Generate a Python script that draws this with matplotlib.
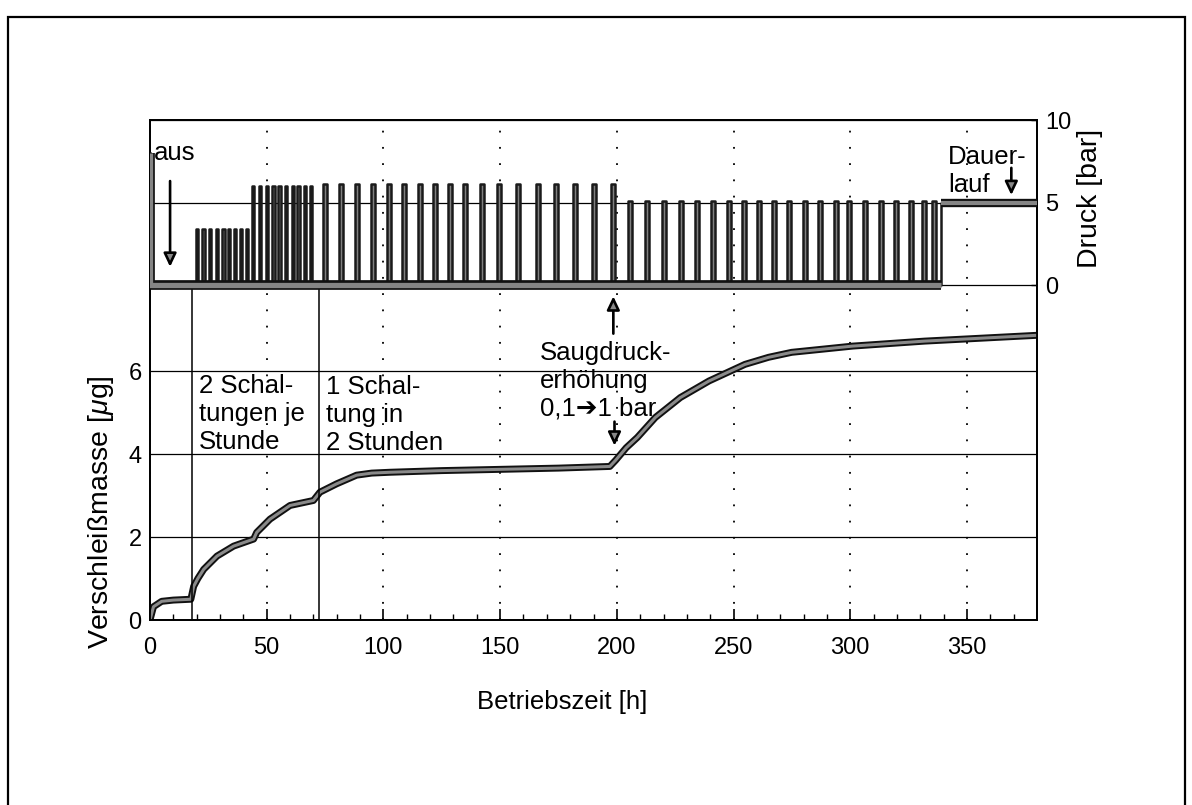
import matplotlib
matplotlib.use("Agg")
import matplotlib.pyplot as plt
from matplotlib.patches import Rectangle

plt.rcParams['font.family'] = ['Liberation Sans', 'DejaVu Sans']
plt.rcParams['mathtext.fontset'] = 'custom'
plt.rcParams['mathtext.it'] = 'Liberation Sans:italic'
plt.rcParams['mathtext.rm'] = 'Liberation Sans'

# ---------------- data ----------------
# wear mass curve (Betriebszeit [h], Verschleissmasse [ug])
mass_time = [0, 1.5, 5, 10, 17.5, 18.7, 20.5, 23, 28.7, 35.8, 44.4, 45.7, 51.4, 60, 70,
             72.8, 79.9, 88.5, 95, 102.8, 125, 150, 175, 197, 199.5, 204, 208.8, 216.5,
             227.2, 239.5, 254.9, 265, 274.9, 301, 331.8, 380]
mass_value = [0, 0.32, 0.45, 0.48, 0.5, 0.81, 1.0, 1.22, 1.54, 1.78, 1.95, 2.11, 2.43, 2.76, 2.88,
              3.08, 3.28, 3.49, 3.54, 3.56, 3.6, 3.63, 3.66, 3.7, 3.85, 4.15, 4.40, 4.88,
              5.36, 5.76, 6.16, 6.33, 6.45, 6.6, 6.72, 6.86]

# pressure switching pulses (centre times [h]) and their levels [bar]
pulses_2_per_hour_low = [20.0, 22.9, 25.7, 28.6, 31.5, 33.9, 36.5, 39.0, 41.5]
level_2_per_hour_low = 3.4
pulses_2_per_hour_high = [44.3, 47.2, 50.0, 52.9, 55.5, 58.2, 61.1, 63.6, 66.5, 69.0]
level_2_per_hour_high = 6.0
pulses_1_per_2h = [74.8, 81.8, 88.6, 95.4, 102.2, 108.9, 115.5, 122.2, 128.6, 135.1, 142.2,
                   149.4, 157.5, 166.1, 174.1, 182.0, 190.4, 198.4]
level_1_per_2h = 6.1
pulses_after_suction = [205.7, 212.9, 220.1, 227.5, 234.4, 241.2, 248.0, 254.4, 260.8, 267.2,
                        273.7, 280.8, 287.2, 293.7, 299.4, 306.5, 313.0, 319.4, 325.9, 331.6, 335.9]
level_after_suction = 5.1
initial_pressure = 8.0
continuous_start = 339.0
continuous_level = 5.0
time_end = 380

phase_boundaries = [18.0, 72.3]

x_ticks = [0, 50, 100, 150, 200, 250, 300, 350]
mass_ticks = [0, 2, 4, 6]
pressure_ticks = [0, 5, 10]

# ---------------- figure ----------------
W, H = 1192, 805
fig = plt.figure(figsize=(W / 100, H / 100), dpi=100)
L, R, B, T = 150, 1037, 620, 120
ax = fig.add_axes([L / W, 1 - B / H, (R - L) / W, (B - T) / H])
ax2 = ax.twinx()

ax.set_xlim(0, time_end)
ax.set_ylim(0, (B - T) / 41.5)
ax2.set_ylim(10 - (B - T) / 16.5, 10)

# grids
ax.set_axisbelow(True)
ax.set_xticks(x_ticks)
ax.set_xticks(range(0, 380, 10), minor=True)
ax.set_yticks(mass_ticks)
ax.grid(axis='x', which='major', color='black', lw=1.3, ls=(0, (1, 8)))
ax.grid(axis='y', which='major', color='black', lw=0.9, ls='-')
ax2.set_yticks(pressure_ticks)
ax2.grid(axis='y', color='black', lw=0.9, ls='-')

for sp in list(ax.spines.values()) + list(ax2.spines.values()):
    sp.set_linewidth(1.3)
    sp.set_color('black')

tfs = 17
ax.tick_params(axis='x', which='major', direction='in', length=8, width=1.2, pad=12,
               labelsize=tfs)
ax.tick_params(axis='x', which='minor', direction='in', length=4, width=1.0)
ax.tick_params(axis='y', length=0, pad=6, labelsize=tfs)
ax2.tick_params(axis='y', direction='in', length=4, width=1.0, pad=6, labelsize=tfs)

# wear curve (thick outlined grey line)
ax.plot(mass_time, mass_value, color='#111111', lw=5.0, solid_joinstyle='round',
        solid_capstyle='butt', zorder=3)
ax.plot(mass_time, mass_value, color='#8a8a8a', lw=2.2, solid_joinstyle='round', zorder=4)

# pressure pulses
def pulse_train(centres, level, width):
    t, p = [], []
    for c in centres:
        t += [c - width / 2, c - width / 2, c + width / 2, c + width / 2]
        p += [0, level, level, 0]
    return t, p

pt, pp = [0, 0], [initial_pressure, 0]
for centres, level, width in [(pulses_2_per_hour_low, level_2_per_hour_low, 0.9),
                              (pulses_2_per_hour_high, level_2_per_hour_high, 0.9),
                              (pulses_1_per_2h, level_1_per_2h, 1.7),
                              (pulses_after_suction, level_after_suction, 1.7)]:
    t, p = pulse_train(centres, level, width)
    ax2.fill_between(t, 0, p, color='#808080', lw=0, zorder=2.5)
    pt += t
    pp += p
pt += [continuous_start, continuous_start, time_end]
pp += [0, continuous_level, continuous_level]
ax2.plot(pt, pp, color='#1a1a1a', lw=1.8, zorder=3)

# thick base levels (off level, start and continuous run)
base_t = [0, 0, continuous_start]
base_p = [initial_pressure, 0, 0]
ax2.plot(base_t, base_p, color='#111111', lw=7, solid_capstyle='butt', zorder=4)
ax2.plot(base_t, base_p, color='#858585', lw=3.8, solid_capstyle='butt', zorder=5)
cont_t = [continuous_start, time_end]
cont_p = [continuous_level, continuous_level]
ax2.plot(cont_t, cont_p, color='#111111', lw=6, solid_capstyle='butt', zorder=4)
ax2.plot(cont_t, cont_p, color='#858585', lw=3, solid_capstyle='butt', zorder=5)

# phase boundaries (solid verticals in the lower part)
ax2.vlines(phase_boundaries, ax2.get_ylim()[0], 0, color='black', lw=1.1, zorder=2)

# annotations
fs = 18.5
ax2.text(1.8, 7.6, 'aus', fontsize=fs, ha='left', va='baseline')
ax.text(21, 5.92, '2 Schal-\ntungen je\nStunde', fontsize=fs, ha='left', va='top',
        linespacing=1.2)
ax.text(75.5, 5.9, '1 Schal-\ntung in\n2 Stunden', fontsize=fs, ha='left', va='top',
        linespacing=1.2)
ax.text(167, 6.72, 'Saugdruck-\nerhöhung\n0,1\u27941 bar', fontsize=fs, ha='left', va='top',
        linespacing=1.2)
ax2.text(342, 8.5, 'Dauer-\nlauf', fontsize=fs, ha='left', va='top', linespacing=1.2)

arrow = dict(arrowstyle='-|>,head_length=0.8,head_width=0.38', lw=1.9, ec='black',
             fc='#888888', mutation_scale=10, shrinkA=0, shrinkB=0)
ax2.annotate('', xy=(8.6, 1.1), xytext=(8.6, 6.3), arrowprops=arrow)
ax.annotate('', xy=(198.5, 7.8), xytext=(198.5, 6.9), arrowprops=arrow)
ax.annotate('', xy=(199, 4.2), xytext=(199, 4.78), arrowprops=arrow)
ax2.annotate('', xy=(369, 5.45), xytext=(369, 7.1), arrowprops=arrow)

# axis labels
fig.text(562 / W, 1 - 702 / H, 'Betriebszeit [h]', fontsize=fs, ha='center', va='center')
fig.text(101 / W, 1 - 512 / H, 'Verschleißmasse [$\\mu$g]', fontsize=20.5, ha='center',
         va='center', rotation=90)
fig.text(1090 / W, 1 - 198 / H, 'Druck [bar]', fontsize=20.5, ha='center', va='center',
         rotation=90)

# outer frame
fig.patches.append(Rectangle((8 / W, -0.05), (1185 - 8) / W, (1 - 17 / H) + 0.05,
                             transform=fig.transFigure, fill=False, lw=1.6,
                             edgecolor='black'))

fig.savefig('out.png', dpi=100)
